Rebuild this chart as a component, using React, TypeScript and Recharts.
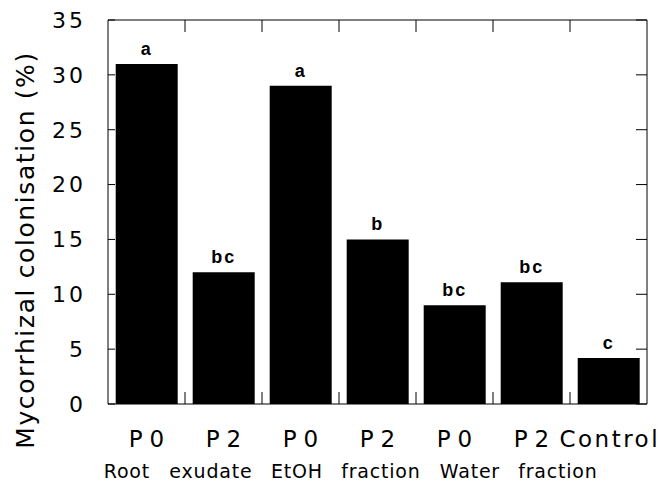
import { BarChart, Bar, XAxis, YAxis, LabelList, Label, ReferenceLine } from 'recharts';

const treatments = ['P0', 'P2', 'P0', 'P2', 'P0', 'P2', 'Control'];
const sources = ['Root', 'exudate', 'EtOH', 'fraction', 'Water', 'fraction', ''];
const colonisation = [31, 12, 29, 15, 9, 11.1, 4.2];
const letters = ['a', 'bc', 'a', 'b', 'bc', 'bc', 'c'];
const yTicks = [0, 5, 10, 15, 20, 25, 30, 35];

// the second label row in the original has its own spacing, not centred on bars
const SUB_SHIFT = [-20, -13, -4, 3, 15, 26, 0];

const W = 661;
const H = 483;
const MARGIN = { top: 20, right: 14, bottom: 0, left: 0 };
const Y_AXIS_W = 108;
const X_AXIS_H = 79;
const TICK_GAP = 17;
const PLOT_W = W - MARGIN.left - MARGIN.right - Y_AXIS_W;
const PLOT_H = H - MARGIN.top - MARGIN.bottom - X_AXIS_H;
const BAND = PLOT_W / treatments.length;
const FONT = '"DejaVu Sans", Verdana, sans-serif';

const data = treatments.map((t, i) => ({
  key: String(i),
  treatment: t,
  source: sources[i],
  value: colonisation[i],
  letter: letters[i],
}));

// category labels + the small boundary ticks on the bottom and top frame
function BottomTick(props: any) {
  const { x, y, index } = props;
  const d = data[index];
  if (!d) return null;
  const ls = d.treatment.length <= 2 ? 7 : 2.5;
  const edge = x + BAND / 2;
  return (
    <g>
      {index < data.length - 1 && (
        <>
          <line x1={edge} y1={y} x2={edge} y2={y - 12} stroke="#000" />
          <line x1={edge} y1={y - PLOT_H} x2={edge} y2={y - PLOT_H + 12} stroke="#000" />
        </>
      )}
      <text x={x + ls / 2} y={y + 43} textAnchor="middle" fontFamily={FONT} fontSize={23} letterSpacing={ls} fill="#000">
        {d.treatment}
      </text>
      {d.source && (
        <text x={x + SUB_SHIFT[index] + 0.4} y={y + 74} textAnchor="middle" fontFamily={FONT} fontSize={19} letterSpacing={0.8} fill="#000">
          {d.source}
        </text>
      )}
    </g>
  );
}

// value labels + inward ticks on both the left axis and the right frame
function LeftTick(props: any) {
  const { x, y, payload } = props;
  const axisX = x + TICK_GAP;
  return (
    <g>
      <line x1={axisX} y1={y} x2={axisX + 7} y2={y} stroke="#000" />
      <line x1={axisX + PLOT_W - 11} y1={y} x2={axisX + PLOT_W} y2={y} stroke="#000" />
      <text x={x - 5} y={y} dy="0.36em" textAnchor="end" fontFamily={FONT} fontSize={22} letterSpacing={3} fill="#000">
        {payload.value}
      </text>
    </g>
  );
}

function YTitle(props: any) {
  const { viewBox } = props;
  const cx = viewBox.x + 25;
  const cy = viewBox.y + viewBox.height / 2 + 38;
  return (
    <text
      x={cx}
      y={cy}
      transform={`rotate(-90, ${cx}, ${cy})`}
      textAnchor="middle"
      dominantBaseline="central"
      fontFamily={FONT}
      fontSize={25}
      letterSpacing={1.6}
      fill="#000"
    >
      Mycorrhizal colonisation (%)
    </text>
  );
}

export default function App() {
  return (
    <div style={{ position: 'absolute', left: 0, top: 0, width: W, height: H, background: '#fff' }}>
      <BarChart width={W} height={H} data={data} margin={MARGIN} barCategoryGap="10%">
        <XAxis
          dataKey="key"
          height={X_AXIS_H}
          interval={0}
          tickSize={0}
          tickMargin={0}
          tickLine={false}
          axisLine={{ stroke: '#000' }}
          tick={<BottomTick />}
        />
        <YAxis
          domain={[0, 35]}
          ticks={yTicks}
          width={Y_AXIS_W}
          tickSize={0}
          tickMargin={TICK_GAP}
          tickLine={false}
          axisLine={{ stroke: '#000' }}
          tick={<LeftTick />}
        >
          <Label content={<YTitle />} />
        </YAxis>
        <ReferenceLine y={35} stroke="#000" />
        <ReferenceLine x="6" position="end" stroke="#000" />
        <Bar dataKey="value" fill="#000" isAnimationActive={false}>
          <LabelList
            dataKey="letter"
            position="top"
            offset={9}
            fill="#000"
            fontFamily='"Liberation Sans", Arial, sans-serif'
            fontWeight="bold"
            fontSize={18}
            letterSpacing={2}
          />
        </Bar>
      </BarChart>
    </div>
  );
}
